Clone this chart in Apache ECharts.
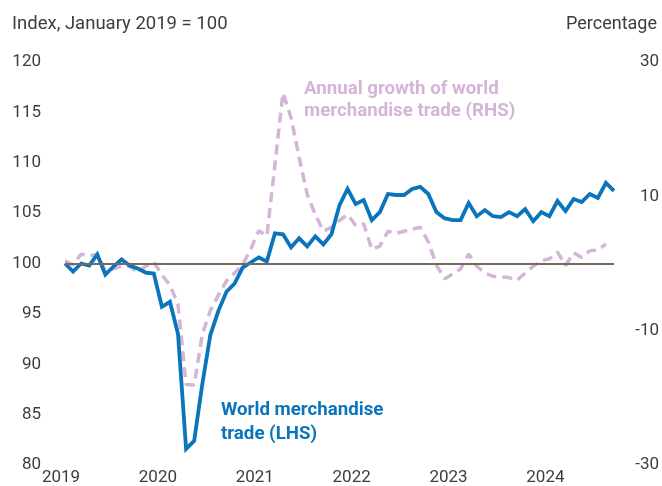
<!DOCTYPE html>
<html>
<head>
<meta charset="utf-8">
<script src="https://cdn.jsdelivr.net/npm/echarts@6/dist/echarts.min.js"></script>
<style>
html,body{margin:0;padding:0;background:#fff;}
#c{width:662px;height:486px;}
</style>
</head>
<body>
<div id="c"></div>
<script>
// Months Jan 2019 .. Sep 2024
var years = ['2019','2020','2021','2022','2023','2024'];
var monthNames = ['01','02','03','04','05','06','07','08','09','10','11','12'];
var lastMonthCount = 9; // 2024 runs to September

// World merchandise trade volume index (LHS), Jan 2019 = 100
var tradeIndex = [
  100.0, 99.2, 100.0, 99.8, 100.9, 98.9, 99.7, 100.4, 99.8, 99.5, 99.1, 99.0,
  95.7, 96.2, 93.0, 81.6, 82.4, 88.0, 92.9, 95.3, 97.2, 98.0, 99.6, 100.1,
  100.6, 100.2, 103.0, 102.9, 101.6, 102.5, 101.7, 102.7, 101.9, 102.9, 105.8, 107.4,
  105.9, 106.3, 104.3, 105.1, 106.9, 106.8, 106.8, 107.4, 107.6, 106.9, 105.1, 104.5,
  104.3, 104.3, 106.0, 104.7, 105.3, 104.7, 104.6, 105.1, 104.7, 105.4, 104.2, 105.1,
  104.7, 106.2, 105.2, 106.4, 106.1, 106.9, 106.5, 108.0, 107.2
];

// Annual growth of world merchandise trade (RHS), percent
var annualGrowth = [
  0.4, -0.2, 1.4, 1.1, 1.4, -1.1, -0.8, -0.4, -0.4, -1.3, -0.4, 0.2,
  -1.7, -3.2, -6.1, -18.0, -18.1, -10.6, -7.0, -4.7, -2.6, -1.4, -0.2, 2.1,
  4.9, 4.1, 14.7, 25.4, 21.7, 15.8, 10.3, 7.3, 4.8, 5.4, 6.4, 7.3,
  5.7, 5.9, 2.1, 2.6, 4.8, 4.5, 4.8, 5.1, 5.4, 3.2, -0.2, -2.3,
  -1.6, -0.8, 1.4, -0.4, -1.4, -1.9, -2.0, -2.1, -2.5, -1.4, -0.4, 0.4,
  0.7, 1.7, -0.3, 1.6, 0.9, 1.9, 2.0, 2.9, null
];

var leftTicks = {min: 80, max: 120, interval: 5};
var rightTicks = {min: -30, max: 30, interval: 20};
var referenceLevel = 100;

var leftTitle = 'Index, January 2019 = 100';
var rightTitle = 'Percentage';
var rhsNote = ['Annual growth of world', 'merchandise trade (RHS)'];
var lhsNote = ['World merchandise', 'trade (LHS)'];

var categories = [];
years.forEach(function (y, yi) {
  var n = (yi === years.length - 1) ? lastMonthCount : 12;
  for (var m = 0; m < n; m++) categories.push(y + '-' + monthNames[m]);
});

var BLUE = '#0a74bc';
var PINK = '#d4b4d7';
var TXT = '#3d3d3d';
var FONT = 'Roboto';

var chart = echarts.init(document.getElementById('c'), null, {renderer: 'canvas'});
chart.setOption({
  backgroundColor: '#fff',
  animation: false,
  grid: {left: 65, right: 48, top: 62, bottom: 19, containLabel: false},
  xAxis: {
    type: 'category',
    data: categories,
    boundaryGap: false,
    axisLine: {show: false},
    axisTick: {show: false},
    splitLine: {show: false},
    axisLabel: {
      color: TXT, fontFamily: FONT, fontSize: 17, margin: 4,
      padding: [0, 8, 0, 0],
      interval: function (idx) { return idx % 12 === 0; },
      formatter: function (v) { return v.slice(0, 4); }
    }
  },
  yAxis: [
    {
      type: 'value', position: 'left',
      min: leftTicks.min, max: leftTicks.max, interval: leftTicks.interval,
      axisLine: {show: false}, axisTick: {show: false}, splitLine: {show: false},
      axisLabel: {color: TXT, fontFamily: FONT, fontSize: 17, margin: 24, padding: [0, 0, 8, 0]}
    },
    {
      type: 'value', position: 'right',
      min: rightTicks.min, max: rightTicks.max, interval: rightTicks.interval,
      axisLine: {show: false}, axisTick: {show: false}, splitLine: {show: false},
      axisLabel: {color: TXT, fontFamily: FONT, fontSize: 17, margin: 45, align: 'right', padding: [0, 0, 8, 0]}
    }
  ],
  series: [
    {
      name: 'Annual growth', type: 'line', yAxisIndex: 1,
      data: annualGrowth, showSymbol: false, symbol: 'none',
      lineStyle: {color: PINK, width: 3.5, type: [10, 6], cap: 'butt'},
      z: 2
    },
    {
      name: 'Trade index', type: 'line', yAxisIndex: 0,
      data: tradeIndex, showSymbol: false, symbol: 'none',
      lineStyle: {color: BLUE, width: 3.8, join: 'miter'},
      markLine: {
        silent: true, symbol: 'none', label: {show: false},
        lineStyle: {color: '#76675f', width: 2, type: 'solid'},
        data: [{yAxis: referenceLevel}]
      },
      z: 3
    }
  ],
  graphic: [
    {type: 'text', left: 12, top: 15, style: {text: leftTitle, fill: TXT, font: '18.5px Roboto'}},
    {type: 'text', right: 5, top: 15, style: {text: rightTitle, fill: TXT, font: '18px Roboto', textAlign: 'right'}},
    {type: 'text', left: 304, top: 78, style: {text: rhsNote.join('\n'), fill: PINK, font: 'bold 18.7px Roboto', lineHeight: 22}},
    {type: 'text', left: 221, top: 398, style: {text: lhsNote.join('\n'), fill: BLUE, font: 'bold 18.7px Roboto', lineHeight: 24}}
  ]
});
</script>
</body>
</html>
